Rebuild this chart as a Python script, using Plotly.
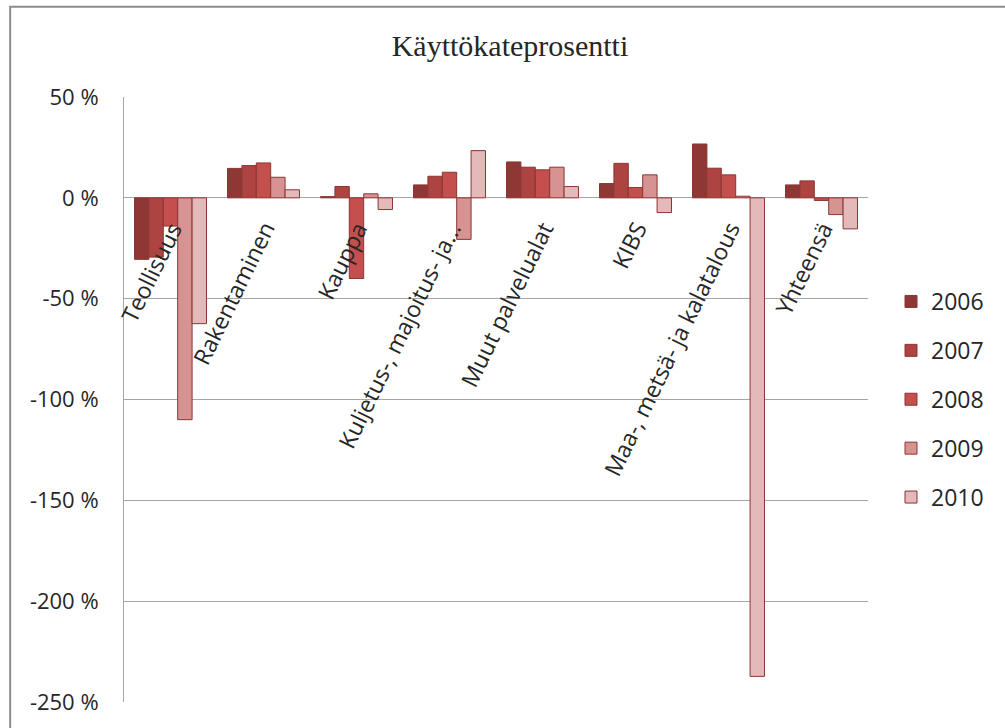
import plotly.graph_objects as go

# Toimialat (category axis)
categories = [
    "Teollisuus",
    "Rakentaminen",
    "Kauppa",
    "Kuljetus-, majoitus- ja…",
    "Muut palvelualat",
    "KIBS",
    "Maa-, metsä- ja kalatalous",
    "Yhteensä",
]

years = ["2006", "2007", "2008", "2009", "2010"]

# Käyttökateprosentti (%) by year
v2006 = [-30.5, 14.6, 0.6, 6.4, 17.8, 7.1, 26.7, 6.4]
v2007 = [-29.4, 16.0, 5.6, 10.7, 15.2, 17.1, 14.7, 8.4]
v2008 = [-14.0, 17.3, -40.0, 12.7, 13.9, 5.1, 11.4, -1.3]
v2009 = [-110.0, 10.2, 2.0, -20.6, 15.2, 11.4, 0.8, -8.3]
v2010 = [-62.4, 4.0, -5.8, 23.4, 5.6, -7.3, -237.3, -15.4]
series = [v2006, v2007, v2008, v2009, v2010]

colors = ["#8f3735", "#ad4442", "#c4504e", "#d69392", "#e3b9b9"]
outline = "#8b3634"

tick_vals = [50, 0, -50, -100, -150, -200, -250]
tick_text = ["50 %", "0 %", "-50 %", "-100 %", "-150 %", "-200 %", "-250 %"]

SANS = "Open Sans"
SERIF = "Liberation Serif"
TEXT = "#262626"
GRID = "#a6a6a6"

fig = go.Figure()
for year, vals, col in zip(years, series, colors):
    fig.add_trace(go.Bar(
        x=categories,
        y=vals,
        name=year,
        legendgroup=year,
        marker=dict(color=col, line=dict(color=outline, width=1)),
    ))

# Category labels sit just under the zero line, slanted upwards
for cat in categories:
    fig.add_annotation(
        x=cat, y=0, xref="x", yref="y",
        text=cat, showarrow=False, textangle=-64,
        xanchor="right", yanchor="top",
        xshift=21, yshift=-16,
        font=dict(family=SANS, size=23, color=TEXT),
    )

# Outer chart frame
fig.add_shape(
    type="rect", xref="paper", yref="paper",
    x0=-0.153, x1=1.6, y0=-0.5, y1=1.149,
    line=dict(color="#8c8c8c", width=2), layer="below",
)

fig.update_layout(
    width=1005, height=728,
    margin=dict(l=124, r=137, t=97, b=26),
    paper_bgcolor="white", plot_bgcolor="white",
    barmode="group", bargap=0.226, bargroupgap=0,
    title=dict(
        text="Käyttökateprosentti",
        x=510 / 1005, xref="container", xanchor="center",
        y=1 - 45 / 728, yref="container", yanchor="middle",
        font=dict(family=SERIF, size=30, color=TEXT),
    ),
    showlegend=True,
    legend=dict(
        xref="container", yref="container",
        x=891 / 1005, xanchor="left",
        y=1 - 280 / 728, yanchor="top",
        traceorder="grouped", tracegroupgap=16,
        font=dict(family=SANS, size=23, color=TEXT),
        bgcolor="rgba(0,0,0,0)",
    ),
    xaxis=dict(
        range=[-0.5, len(categories) - 0.5], autorange=False,
        showticklabels=False, showgrid=False, zeroline=False,
        showline=False, ticks="",
    ),
    yaxis=dict(
        range=[-250, 50], autorange=False,
        tickvals=tick_vals, ticktext=tick_text,
        tickfont=dict(family=SANS, size=22, color=TEXT),
        showgrid=True, gridcolor=GRID, gridwidth=1,
        zeroline=True, zerolinecolor=GRID, zerolinewidth=1,
        showline=True, linecolor=GRID, linewidth=1,
        ticks="", ticklabelstandoff=20,
    ),
)

fig.write_html("out.html")
